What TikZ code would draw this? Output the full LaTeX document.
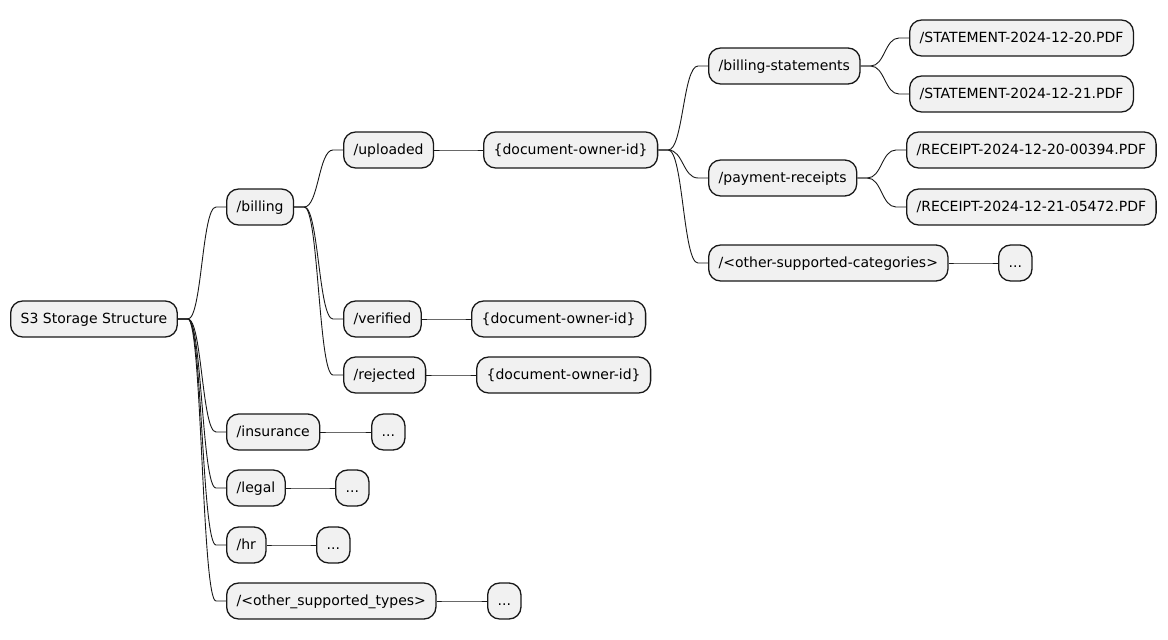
\documentclass[tikz,border=0pt]{standalone}
\usepackage{fontspec}
\setmainfont{DejaVu Sans}
\usetikzlibrary{calc}
\definecolor{mmfill}{HTML}{F1F1F1}
\definecolor{mmedge}{HTML}{181818}
\tikzset{
  mmbox/.style={draw=mmedge, fill=mmfill, line width=1.3pt, rounded corners=12pt,
    anchor=west, inner xsep=10pt, minimum height=36pt, text height=11pt, text depth=3pt,
    font=\fontsize{14pt}{17pt}\selectfont},
  mmline/.style={draw=mmedge, line width=0.9pt}
}
% curved mind-map connector: short stub, S-curve, short stub
\newcommand\mmlink[2]{%
  \path[mmline] let \p1=(#1.east), \p2=(#2.west) in
    (\p1) -- (\x1+10pt,\y1)
    .. controls ({(\x1+\x2)/2},\y1) and ({(\x1+\x2)/2},\y2) ..
    (\x2-10pt,\y2) -- (\p2);}
\begin{document}
\begin{tikzpicture}[x=1pt,y=-1pt]
\useasboundingbox (0,0) rectangle (1168,640);
% level 0
\node[mmbox] (root) at (10,319) {S3 Storage Structure};
% level 1
\node[mmbox] (billing) at (226,207) {/billing};
\node[mmbox] (insurance) at (226,432) {/insurance};
\node[mmbox] (legal) at (226,488) {/legal};
\node[mmbox] (hr) at (226,545) {/hr};
\node[mmbox] (othertypes) at (226,601) {/<other\_supported\_types>};
% level 2
\node[mmbox] (uploaded) at (343,150) {/uploaded};
\node[mmbox] (verified) at (343,319) {/verified};
\node[mmbox] (rejected) at (343,375) {/rejected};
\node[mmbox] (insdots) at (371,432) {...};
\node[mmbox] (legaldots) at (335,488) {...};
\node[mmbox] (hrdots) at (316,545) {...};
\node[mmbox] (othertypesdots) at (487,601) {...};
% level 3
\node[mmbox] (upown) at (483,150) {\{document-owner-id\}};
\node[mmbox] (verown) at (471,319) {\{document-owner-id\}};
\node[mmbox] (rejown) at (476,375) {\{document-owner-id\}};
% level 4
\node[mmbox] (bstmt) at (708,66) {/billing-statements};
\node[mmbox] (preceipts) at (708,178) {/payment-receipts};
\node[mmbox] (othercat) at (708,263) {/<other-supported-categories>};
% level 5
\node[mmbox] (st20) at (909,38) {/STATEMENT-2024-12-20.PDF};
\node[mmbox] (st21) at (909,94) {/STATEMENT-2024-12-21.PDF};
\node[mmbox] (rc20) at (906,150) {/RECEIPT-2024-12-20-00394.PDF};
\node[mmbox] (rc21) at (906,207) {/RECEIPT-2024-12-21-05472.PDF};
\node[mmbox] (othercatdots) at (998,263) {...};
% connectors
\mmlink{root}{billing}
\mmlink{root}{insurance}
\mmlink{root}{legal}
\mmlink{root}{hr}
\mmlink{root}{othertypes}
\mmlink{billing}{uploaded}
\mmlink{billing}{verified}
\mmlink{billing}{rejected}
\mmlink{insurance}{insdots}
\mmlink{legal}{legaldots}
\mmlink{hr}{hrdots}
\mmlink{othertypes}{othertypesdots}
\mmlink{uploaded}{upown}
\mmlink{verified}{verown}
\mmlink{rejected}{rejown}
\mmlink{upown}{bstmt}
\mmlink{upown}{preceipts}
\mmlink{upown}{othercat}
\mmlink{bstmt}{st20}
\mmlink{bstmt}{st21}
\mmlink{preceipts}{rc20}
\mmlink{preceipts}{rc21}
\mmlink{othercat}{othercatdots}
\end{tikzpicture}
\end{document}
